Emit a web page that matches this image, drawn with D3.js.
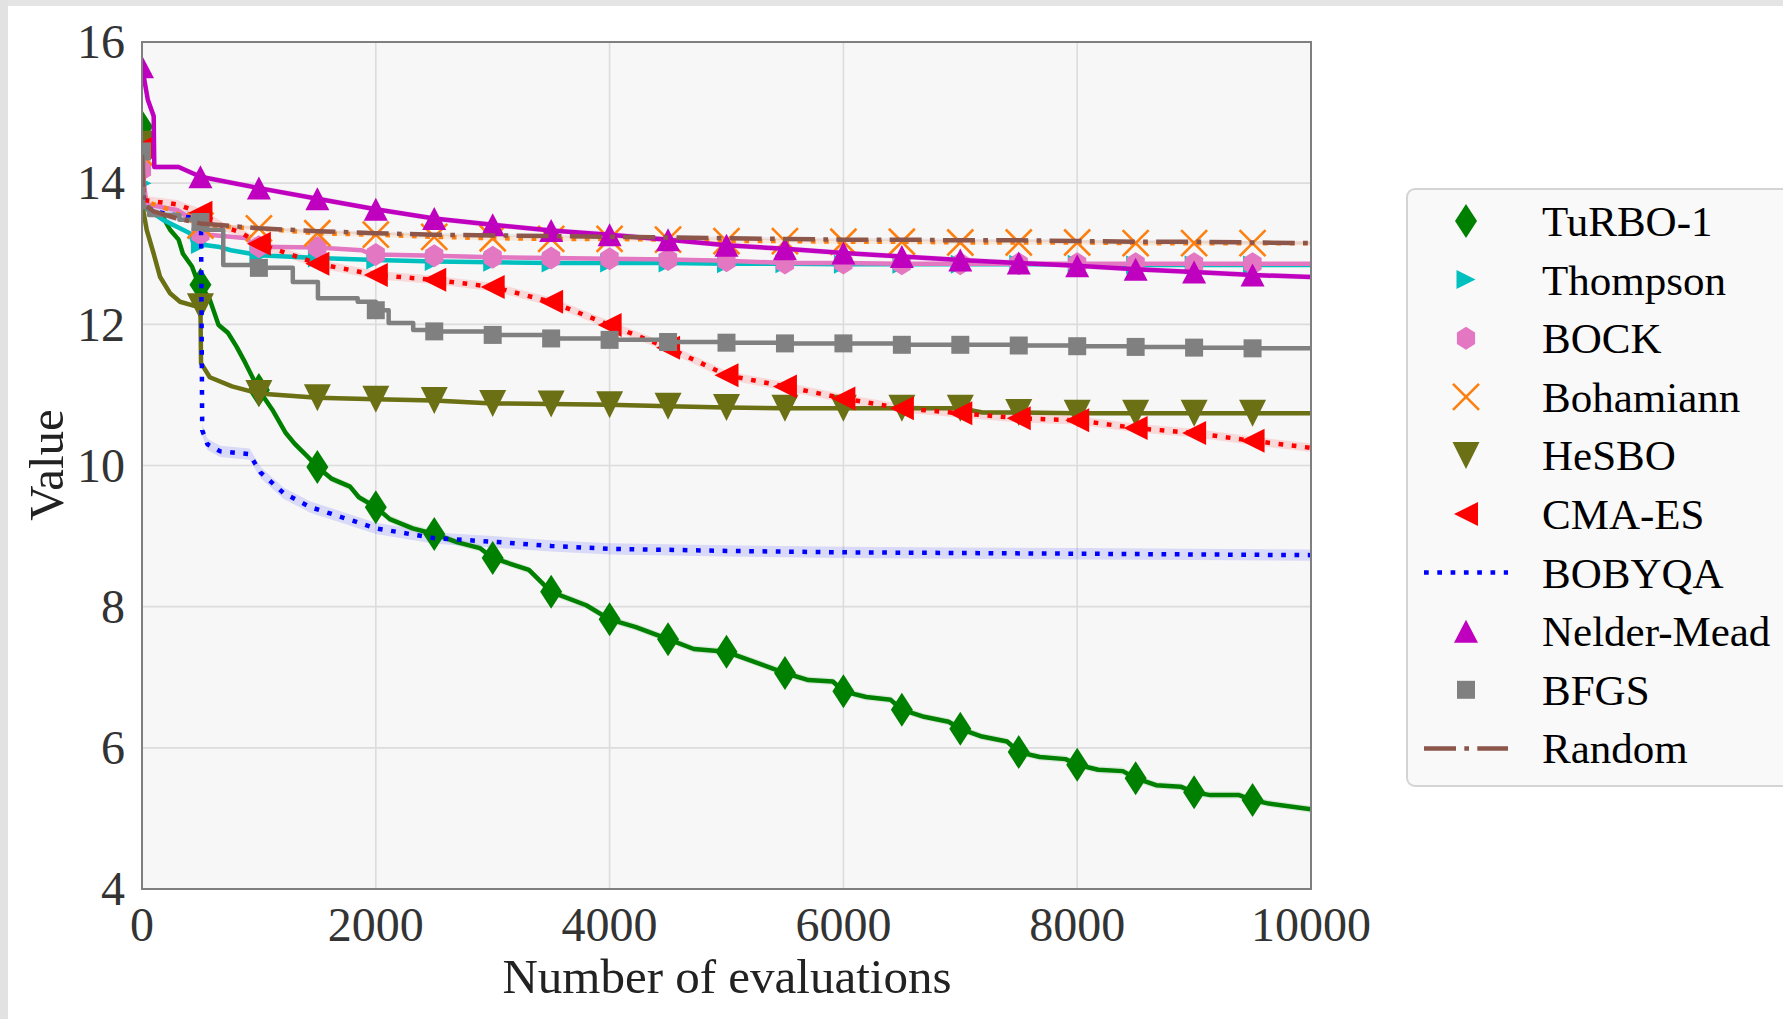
<!DOCTYPE html>
<html>
<head>
<meta charset="utf-8">
<script src="https://cdn.jsdelivr.net/npm/d3@7/dist/d3.min.js"></script>
<style>
  body { margin: 0; background: #fff; }
  svg { display: block; }
  text { font-family: "Liberation Serif", "Times New Roman", serif; }
</style>
</head>
<body>
<svg id="chart" width="1783" height="1019"></svg>
<script>
// [evaluations, value]
var turbo = [[0,14.8],[20,13.75],[60,13.6],[180,13.52],[240,13.34],[313,13.2],[350,13.0],[428,12.82],[470,12.63],[500,12.56],
  [580,12.35],[655,11.99],[735,11.88],[810,11.68],[885,11.45],[1000,11.07],[1115,10.79],[1230,10.46],[1305,10.31],[1420,10.12],
  [1500,9.98],[1625,9.81],[1780,9.7],[1855,9.55],[2000,9.41],[2120,9.24],[2315,9.11],[2500,9.03],[2700,8.91],[2890,8.83],
  [3000,8.69],[3310,8.52],[3500,8.21],[3800,8.02],[4000,7.82],[4225,7.71],[4500,7.54],[4720,7.4],[5000,7.36],[5220,7.23],
  [5500,7.06],[5700,6.96],[5910,6.94],[6000,6.8],[6195,6.72],[6405,6.68],[6500,6.54],[6690,6.44],[6900,6.37],[7000,6.27],
  [7185,6.16],[7400,6.09],[7500,5.94],[7680,5.87],[7900,5.84],[8000,5.76],[8180,5.69],[8390,5.67],[8500,5.57],[8675,5.47],
  [8885,5.45],[9000,5.37],[9140,5.33],[9385,5.33],[9500,5.26],[9640,5.21],[10000,5.13]];
var thompson = [[0,14.0],[30,13.65],[180,13.48],[410,13.29],[440,13.15],[500,13.13],[650,13.1],[760,13.05],[1000,12.98],
  [1500,12.94],[2000,12.91],[2500,12.89],[3000,12.88],[3500,12.87],[4000,12.87],[4500,12.87],[5000,12.86],[5500,12.86],
  [6000,12.85],[6500,12.85],[7000,12.85],[7500,12.85],[8000,12.85],[8500,12.84],[9000,12.84],[9500,12.84],[10000,12.84]];
var bock = [[0,14.19],[40,13.7],[300,13.62],[460,13.45],[480,13.3],[500,13.28],[900,13.22],[950,13.1],[1000,13.1],
  [1500,13.09],[1880,13.05],[1950,13.0],[2000,12.99],[2500,12.97],[3000,12.95],[3500,12.94],[4000,12.93],[4500,12.92],
  [5000,12.9],[5500,12.87],[6000,12.87],[6500,12.86],[7000,12.86],[7500,12.86],[8000,12.86],[8500,12.86],[9000,12.86],
  [9500,12.86],[10000,12.86]];
var bohamiann = [[0,14.4],[20,13.75],[240,13.62],[500,13.4],[860,13.37],[1000,13.36],[1500,13.29],[2000,13.27],[2500,13.24],
  [3000,13.22],[3500,13.21],[4000,13.21],[4500,13.2],[5000,13.18],[5500,13.18],[6000,13.17],[6500,13.17],[7000,13.16],
  [7500,13.16],[8000,13.16],[8500,13.15],[9000,13.15],[9500,13.15],[10000,13.15]];
var hesbo = [[0,14.55],[10,13.62],[40,13.34],[100,13.0],[155,12.67],[240,12.44],[325,12.32],[470,12.25],[500,12.25],
  [505,11.45],[580,11.25],[770,11.12],[1000,11.02],[1500,10.96],[2000,10.94],[2500,10.92],[3000,10.88],[3500,10.87],
  [4000,10.86],[4500,10.84],[5000,10.82],[5500,10.81],[6000,10.81],[6500,10.81],[7000,10.81],[7190,10.75],[7500,10.75],
  [8000,10.74],[8500,10.74],[9000,10.74],[9500,10.74],[10000,10.74]];
var cmaes = [[0,14.5],[15,13.76],[300,13.7],[500,13.58],[700,13.38],[850,13.3],[1000,13.14],[1500,12.86],[2000,12.7],
  [2500,12.63],[3000,12.53],[3500,12.32],[4000,11.99],[4500,11.67],[5000,11.28],[5500,11.12],[6000,10.95],[6500,10.81],
  [7000,10.74],[7500,10.67],[8000,10.64],[8500,10.53],[9000,10.46],[9500,10.35],[10000,10.25]];
var bobyqa = [[0,14.2],[20,13.7],[100,13.6],[385,13.52],[500,13.5],[505,13.4],[515,10.5],[560,10.3],[670,10.2],[920,10.16],
  [1015,9.9],[1210,9.61],[1440,9.41],[1705,9.27],[2000,9.11],[2505,8.97],[3000,8.92],[3500,8.86],[4000,8.82],[5000,8.79],
  [6000,8.77],[7000,8.76],[8000,8.75],[9000,8.74],[10000,8.73]];
var nelderMead = [[0,15.65],[50,15.18],[100,14.95],[105,14.23],[313,14.23],[500,14.09],[1000,13.93],[1500,13.78],[2000,13.63],
  [2500,13.5],[3000,13.41],[3500,13.33],[4000,13.27],[4500,13.2],[5000,13.12],[5500,13.07],[6000,13.01],[6500,12.96],
  [7000,12.91],[7500,12.87],[8000,12.83],[8500,12.78],[9000,12.74],[9500,12.7],[10000,12.67]];
var bfgs = [[0,14.45],[10,13.66],[60,13.55],[320,13.48],[500,13.45],[520,13.34],[695,12.84],[1000,12.8],[1290,12.6],
  [1505,12.37],[1845,12.32],[2000,12.2],[2110,12.02],[2320,11.92],[2500,11.9],[3000,11.85],[3500,11.8],[4000,11.78],
  [4500,11.75],[5000,11.74],[5500,11.73],[6000,11.73],[6500,11.71],[7000,11.71],[7500,11.7],[8000,11.69],[8500,11.68],
  [9000,11.67],[9500,11.66],[10000,11.66]];
var random = [[0,14.4],[15,13.7],[100,13.6],[300,13.5],[500,13.43],[1000,13.36],[1500,13.32],[2000,13.29],[2500,13.27],
  [3000,13.26],[3500,13.25],[4000,13.24],[4500,13.23],[5000,13.22],[5500,13.21],[6000,13.2],[6500,13.2],[7000,13.19],
  [7500,13.19],[8000,13.18],[8500,13.17],[9000,13.17],[9500,13.16],[10000,13.15]];

var seriesNames = ['TuRBO-1', 'Thompson', 'BOCK', 'Bohamiann', 'HeSBO', 'CMA-ES', 'BOBYQA', 'Nelder-Mead', 'BFGS', 'Random'];
var seriesData = [turbo, thompson, bock, bohamiann, hesbo, cmaes, bobyqa, nelderMead, bfgs, random];
// half width of the shaded error band, in value units
var bandHalf = [0.05, 0.02, 0.02, 0.03, 0.03, 0.06, 0.08, 0.04, 0.03, 0.02];
var xTicks = [0, 2000, 4000, 6000, 8000, 10000];
var yTicks = [4, 6, 8, 10, 12, 14, 16];

var styles = [
  {color: '#008000', dash: null, marker: 'thin_diamond'},
  {color: '#00bfbf', dash: null, marker: 'tri_right'},
  {color: '#e377c2', dash: null, marker: 'hexagon'},
  {color: '#ff7f0e', dash: 'dot', marker: 'x'},
  {color: '#6b7014', dash: null, marker: 'tri_down'},
  {color: '#ff0000', dash: 'dot', marker: 'tri_left'},
  {color: '#0000ff', dash: 'dot', marker: null},
  {color: '#bf00bf', dash: null, marker: 'tri_up'},
  {color: '#808080', dash: null, marker: 'square', step: true},
  {color: '#8c564b', dash: 'dashdot', marker: null}
];
var dashArrays = {dot: '4.7,8.6', dashdot: '32,8.3,4.7,8.3'};
var lineWidth = 4.5;

var margin = {left: 142, top: 42, right: 1311, bottom: 889};
var svg = d3.select('#chart');

// grey strip along the top and left edge of the image
svg.append('rect').attr('x', 0).attr('y', 0).attr('width', 1783).attr('height', 6).attr('fill', '#e4e4e4');
svg.append('rect').attr('x', 0).attr('y', 0).attr('width', 8).attr('height', 1019).attr('fill', '#e2e2e2');

var x = d3.scaleLinear().domain([0, 10000]).range([margin.left, margin.right]);
var y = d3.scaleLinear().domain([4, 16]).range([margin.bottom, margin.top]);

svg.append('defs').append('clipPath').attr('id', 'plotclip')
  .append('rect')
    .attr('x', margin.left).attr('y', margin.top)
    .attr('width', margin.right - margin.left).attr('height', margin.bottom - margin.top);

svg.append('rect')
  .attr('x', margin.left).attr('y', margin.top)
  .attr('width', margin.right - margin.left).attr('height', margin.bottom - margin.top)
  .attr('fill', '#f7f7f7');

// grid
var grid = svg.append('g').attr('class', 'grid');
grid.selectAll('line.gx').data(xTicks).enter().append('line')
  .attr('x1', function(d) { return x(d); }).attr('x2', function(d) { return x(d); })
  .attr('y1', margin.top).attr('y2', margin.bottom)
  .attr('stroke', '#dcdcdc').attr('stroke-width', 1.6);
grid.selectAll('line.gy').data(yTicks).enter().append('line')
  .attr('y1', function(d) { return y(d); }).attr('y2', function(d) { return y(d); })
  .attr('x1', margin.left).attr('x2', margin.right)
  .attr('stroke', '#dcdcdc').attr('stroke-width', 1.6);

function markerPath(type) {
  switch(type) {
    case 'thin_diamond': return 'M0,-17L11,0L0,17L-11,0Z';
    case 'tri_up': return 'M0,-11.5L12,11.5L-12,11.5Z';
    case 'tri_down': return 'M0,13.5L13.5,-13.5L-13.5,-13.5Z';
    case 'tri_left': return 'M-12,0L12,-12L12,12Z';
    case 'tri_right': return 'M9.5,0L-9.5,-9.5L-9.5,9.5Z';
    case 'square': return 'M-9,-9H9V9H-9Z';
    case 'hexagon':
      return d3.range(6).map(function(i) {
        var a = Math.PI / 3 * i - Math.PI / 2;
        return (i ? 'L' : 'M') + (10.5 * Math.cos(a)).toFixed(2) + ',' + (11.5 * Math.sin(a)).toFixed(2);
      }).join('') + 'Z';
    case 'x': return 'M-13,-13L13,13M-13,13L13,-13';
  }
  return '';
}

function drawMarker(g, type, color, px, py) {
  var p = g.append('path')
    .attr('d', markerPath(type))
    .attr('transform', 'translate(' + px + ',' + py + ')');
  if(type === 'x') {
    p.attr('fill', 'none').attr('stroke', color).attr('stroke-width', 2.6);
  } else {
    p.attr('fill', color);
  }
}

var plot = svg.append('g').attr('clip-path', 'url(#plotclip)');

// shaded bands first, then the lines and markers
seriesData.forEach(function(data, i) {
  var st = styles[i];
  var area = d3.area()
    .curve(st.step ? d3.curveStepAfter : d3.curveLinear)
    .x(function(d) { return x(d[0]); })
    .y0(function(d) { return y(d[1] - bandHalf[i]); })
    .y1(function(d) { return y(d[1] + bandHalf[i]); });
  plot.append('path').datum(data)
    .attr('d', area)
    .attr('fill', st.color).attr('fill-opacity', 0.12);
});

seriesData.forEach(function(data, i) {
  var st = styles[i];
  var line = d3.line()
    .curve(st.step ? d3.curveStepAfter : d3.curveLinear)
    .x(function(d) { return x(d[0]); })
    .y(function(d) { return y(d[1]); });
  var g = plot.append('g').attr('class', 'series');
  g.append('path').datum(data)
    .attr('d', line)
    .attr('fill', 'none')
    .attr('stroke', st.color)
    .attr('stroke-width', lineWidth)
    .attr('stroke-linejoin', 'round')
    .attr('stroke-dasharray', st.dash ? dashArrays[st.dash] : null);
  if(st.marker) {
    data.filter(function(d) { return d[0] % 500 === 0 && d[0] < 10000; })
      .forEach(function(d) { drawMarker(g, st.marker, st.color, x(d[0]), y(d[1])); });
  }
});

// frame
svg.append('rect')
  .attr('x', margin.left).attr('y', margin.top)
  .attr('width', margin.right - margin.left).attr('height', margin.bottom - margin.top)
  .attr('fill', 'none').attr('stroke', '#7f7f7f').attr('stroke-width', 2);

// tick labels
svg.selectAll('text.xt').data(xTicks).enter().append('text')
  .attr('x', function(d) { return x(d); })
  .attr('y', 941)
  .attr('text-anchor', 'middle')
  .attr('font-size', 48)
  .attr('fill', '#333')
  .text(function(d) { return d; });
svg.selectAll('text.yt').data(yTicks).enter().append('text')
  .attr('x', 125)
  .attr('y', function(d) { return y(d); })
  .attr('dy', '0.34em')
  .attr('text-anchor', 'end')
  .attr('font-size', 48)
  .attr('fill', '#333')
  .text(function(d) { return d; });

// axis titles
svg.append('text')
  .attr('x', 727).attr('y', 993)
  .attr('text-anchor', 'middle')
  .attr('font-size', 49)
  .attr('fill', '#222')
  .text('Number of evaluations');
svg.append('text')
  .attr('transform', 'translate(63,465) rotate(-90)')
  .attr('text-anchor', 'middle')
  .attr('font-size', 49)
  .attr('fill', '#222')
  .text('Value');

// legend
var legend = svg.append('g').attr('class', 'legend');
legend.append('rect')
  .attr('x', 1407).attr('y', 189).attr('width', 420).attr('height', 597)
  .attr('rx', 8).attr('ry', 8)
  .attr('fill', '#f9f9f9').attr('stroke', '#d4d4d4').attr('stroke-width', 2);

seriesNames.forEach(function(name, i) {
  var st = styles[i];
  var cy = 221 + i * 58.6;
  if(st.marker) {
    drawMarker(legend, st.marker, st.color, 1466, cy);
  } else {
    legend.append('line')
      .attr('x1', 1424).attr('x2', 1508).attr('y1', cy).attr('y2', cy)
      .attr('stroke', st.color).attr('stroke-width', lineWidth)
      .attr('stroke-dasharray', dashArrays[st.dash]);
  }
  legend.append('text')
    .attr('x', 1542).attr('y', cy).attr('dy', '0.35em')
    .attr('font-size', 43)
    .attr('fill', '#000')
    .text(name);
});
</script>
</body>
</html>
